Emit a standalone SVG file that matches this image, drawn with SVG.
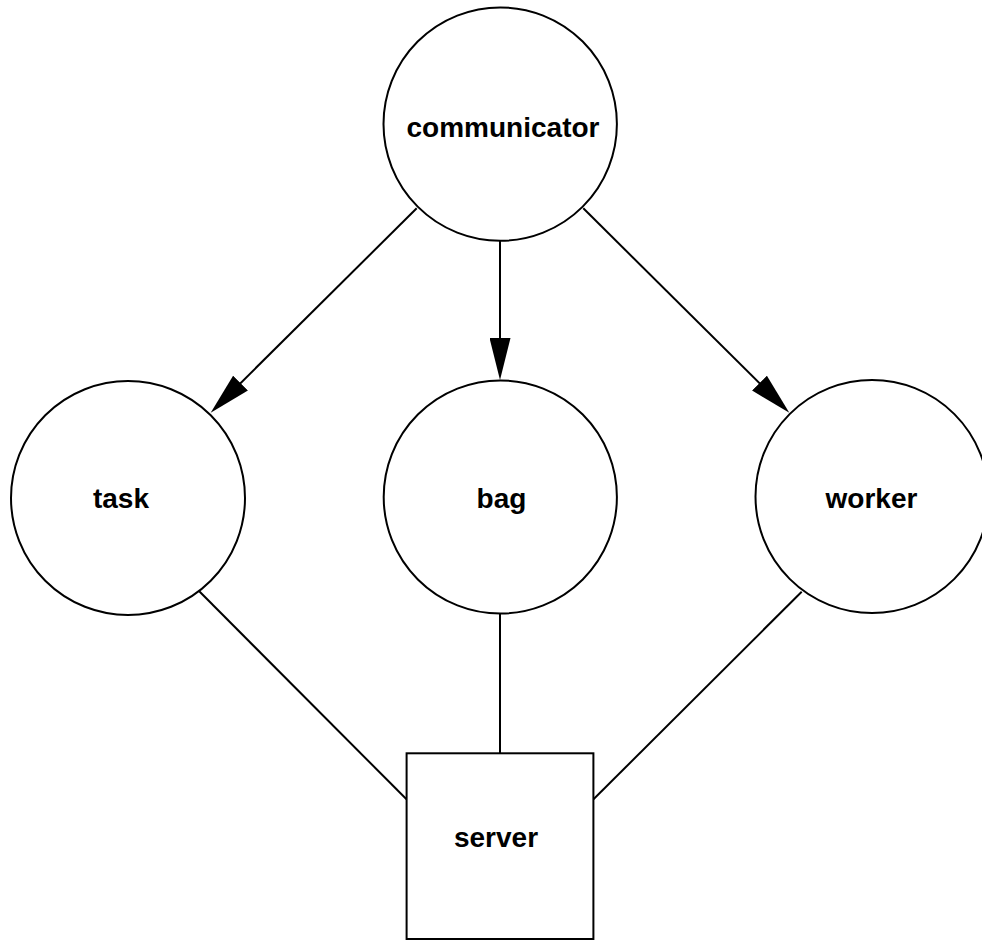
<svg xmlns="http://www.w3.org/2000/svg" width="982" height="940" viewBox="0 0 982 940">
  <style>
    .node { fill: #ffffff; stroke: #000000; stroke-width: 2; }
    .edge { fill: none; stroke: #000000; stroke-width: 2; }
    .label { font-family: "Liberation Sans", Arial, Helvetica, sans-serif; font-weight: bold; font-size: 28px; fill: #000000; text-anchor: middle; }
  </style>
  <defs>
    <marker id="arrow" markerUnits="userSpaceOnUse" markerWidth="42" markerHeight="21" refX="32" refY="10.5" orient="auto">
      <path d="M0,0 L42,10.5 L0,21 Z" fill="#000000"/>
    </marker>
  </defs>
  <rect width="982" height="940" fill="#ffffff"/>

  <g id="edges">
    <line class="edge" x1="416.7" y1="208.3" x2="217.8" y2="405.7" marker-end="url(#arrow)"/>
    <line class="edge" x1="500" y1="241" x2="500" y2="370" marker-end="url(#arrow)"/>
    <line class="edge" x1="583.3" y1="208.3" x2="782.2" y2="405.7" marker-end="url(#arrow)"/>
    <line class="edge" x1="199" y1="591" x2="406.5" y2="799.3"/>
    <line class="edge" x1="500" y1="613.5" x2="500" y2="753"/>
    <line class="edge" x1="801.7" y1="591.7" x2="593.5" y2="799.3"/>
  </g>

  <g id="communicator">
    <circle class="node" cx="500.2" cy="124.1" r="116.7"/>
    <text class="label" x="503" y="136.7">communicator</text>
  </g>
  <g id="task">
    <circle class="node" cx="128" cy="498" r="117"/>
    <text class="label" x="121" y="508.3">task</text>
  </g>
  <g id="bag">
    <circle class="node" cx="500.3" cy="497" r="116.6"/>
    <text class="label" x="501.5" y="508.3">bag</text>
  </g>
  <g id="worker">
    <circle class="node" cx="872" cy="496.5" r="116.5"/>
    <text class="label" x="871.5" y="507.7">worker</text>
  </g>
  <g id="server">
    <rect class="node" x="406.6" y="753.3" width="186.8" height="185.7"/>
    <text class="label" x="496" y="846.7">server</text>
  </g>
</svg>
